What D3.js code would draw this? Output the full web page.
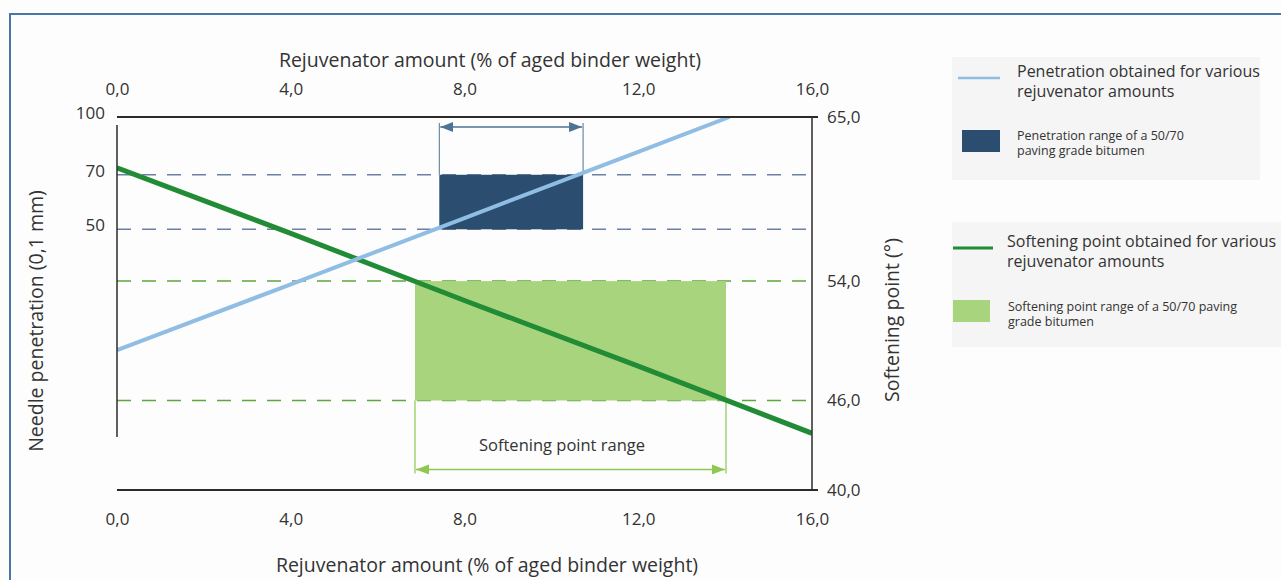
<!DOCTYPE html>
<html>
<head>
<meta charset="utf-8">
<script src="https://cdn.jsdelivr.net/npm/d3@7"></script>
<style>
  html, body { margin: 0; padding: 0; background: #fdfdfd; }
  svg { display: block; }
  text { font-family: "Open Sans", "DejaVu Sans", sans-serif; fill: #333; }
</style>
</head>
<body>
<svg id="chart" width="1281" height="580"></svg>
<script>
// ---------- data ----------
const xTicks = [0, 4, 8, 12, 16];
const xTickLabels = ["0,0", "4,0", "8,0", "12,0", "16,0"];
const penTicks = [100, 70, 50];
const penTickLabels = ["100", "70", "50"];
const spTicks = [65, 54, 46, 40];
const spTickLabels = ["65,0", "54,0", "46,0", "40,0"];

const penetrationAmount = [0, 4, 8, 12, 14.1];
const penetrationValue  = [23.7, 35.6, 53.6, 80.6, 100];

const softeningAmount = [0, 4, 8, 12, 16];
const softeningValue  = [61.6, 57.2, 52.7, 48.3, 43.8];

const penRange = [50, 70];
const penAmountRange = [7.42, 10.73];
const spRange = [46, 54];
const spAmountRange = [6.86, 14.02];

const axisTitleX = "Rejuvenator amount (% of aged binder weight)";
const axisTitleLeft = "Needle penetration (0,1 mm)";
const axisTitleRight = "Softening point (°)";
const rangeLabel = "Softening point range";

const legendMain = [
  ["Penetration obtained for various", "rejuvenator amounts"],
  ["Softening point obtained for various", "rejuvenator amounts"]
];
const legendSub = [
  ["Penetration range of a 50/70", "paving grade bitumen"],
  ["Softening point range of a 50/70 paving", "grade bitumen"]
];

// ---------- colors ----------
const cBlueLine = "#8fbde4";
const cNavy = "#2b4d70";
const cGreenLine = "#228b35";
const cLightGreen = "#a9d47e";
const cBlueDash = "#6c7fa6";
const cGreenDash = "#5ea73c";
const cGreenArrow = "#8dc852";
const cBlueArrow = "#4e7395";
const cAxis = "#2e2a28";
const FONT = '"Open Sans", "DejaVu Sans", sans-serif';

const svg = d3.select("#chart");

// frame
svg.append("rect").attr("x", 10).attr("y", 14).attr("width", 1300).attr("height", 620)
  .attr("fill", "#fdfdfd").attr("stroke", "#4a78a6").attr("stroke-width", 2);

// scales
const x = d3.scaleLinear().domain([0, 16]).range([117, 812]);
const yPen = d3.scaleLog().domain([10, 100]).range([490, 117]);
const ySp = d3.scaleLinear().domain([40, 65]).range([490, 117]);

const defs = svg.append("defs");
defs.append("clipPath").attr("id", "plotclip").append("rect")
  .attr("x", x(0)).attr("y", yPen(100)).attr("width", x(16) - x(0)).attr("height", yPen(10) - yPen(100));
function marker(id, color) {
  defs.append("marker").attr("id", id).attr("viewBox", "0 0 13 10")
    .attr("refX", 13).attr("refY", 5).attr("markerWidth", 13).attr("markerHeight", 10)
    .attr("markerUnits", "userSpaceOnUse").attr("orient", "auto-start-reverse")
    .append("path").attr("d", "M0,0 L13,5 L0,10 Z").attr("fill", color);
}
marker("arrBlue", cBlueArrow);
marker("arrGreen", cGreenArrow);

// dashed guide lines
const dashG = svg.append("g");
penRange.forEach(v => {
  dashG.append("line").attr("x1", x(0)).attr("x2", x(16) - 3).attr("y1", yPen(v)).attr("y2", yPen(v))
    .attr("stroke", cBlueDash).attr("stroke-width", 1.5).attr("stroke-dasharray", "14,11");
});
spRange.forEach(v => {
  dashG.append("line").attr("x1", x(0)).attr("x2", x(16) - 3).attr("y1", ySp(v)).attr("y2", ySp(v))
    .attr("stroke", cGreenDash).attr("stroke-width", 1.5).attr("stroke-dasharray", "14,11");
});

// range rectangles
svg.append("rect")
  .attr("x", x(penAmountRange[0])).attr("width", x(penAmountRange[1]) - x(penAmountRange[0]))
  .attr("y", yPen(penRange[1])).attr("height", yPen(penRange[0]) - yPen(penRange[1]))
  .attr("fill", cNavy);
svg.append("rect")
  .attr("x", x(spAmountRange[0])).attr("width", x(spAmountRange[1]) - x(spAmountRange[0]))
  .attr("y", ySp(spRange[1])).attr("height", ySp(spRange[0]) - ySp(spRange[1]))
  .attr("fill", cLightGreen);

// penetration range dimension (blue)
penAmountRange.forEach(a => {
  svg.append("line").attr("x1", x(a)).attr("x2", x(a)).attr("y1", yPen(100) + 6).attr("y2", yPen(penRange[1]))
    .attr("stroke", cBlueArrow).attr("stroke-width", 1);
});
svg.append("line").attr("x1", x(penAmountRange[0]) + 1).attr("x2", x(penAmountRange[1]) - 1)
  .attr("y1", yPen(100) + 10).attr("y2", yPen(100) + 10)
  .attr("stroke", cBlueArrow).attr("stroke-width", 1.5)
  .attr("marker-start", "url(#arrBlue)").attr("marker-end", "url(#arrBlue)");

// softening range dimension (green)
spAmountRange.forEach(a => {
  svg.append("line").attr("x1", x(a)).attr("x2", x(a)).attr("y1", ySp(spRange[0])).attr("y2", ySp(spRange[0]) + 73)
    .attr("stroke", cGreenArrow).attr("stroke-width", 1.2);
});
svg.append("line").attr("x1", x(spAmountRange[0]) + 1).attr("x2", x(spAmountRange[1]) - 1)
  .attr("y1", ySp(spRange[0]) + 69).attr("y2", ySp(spRange[0]) + 69)
  .attr("stroke", cGreenArrow).attr("stroke-width", 1.5)
  .attr("marker-start", "url(#arrGreen)").attr("marker-end", "url(#arrGreen)");
svg.append("text").attr("x", 562).attr("y", ySp(spRange[0]) + 45)
  .attr("dy", "0.35em").attr("text-anchor", "middle").attr("font-size", 16.5).text(rangeLabel);

// data lines
const softLine = d3.line().x((d, i) => x(softeningAmount[i])).y(d => ySp(d));
svg.append("path").datum(softeningValue).attr("d", softLine)
  .attr("fill", "none").attr("stroke", cGreenLine).attr("stroke-width", 5).attr("clip-path", "url(#plotclip)");
const penLine = d3.line().x((d, i) => x(penetrationAmount[i])).y(d => yPen(d));
svg.append("path").datum(penetrationValue).attr("d", penLine)
  .attr("fill", "none").attr("stroke", cBlueLine).attr("stroke-width", 4).attr("clip-path", "url(#plotclip)");

// frame lines of the plot
svg.append("line").attr("x1", x(0)).attr("x2", x(16) + 6).attr("y1", yPen(100)).attr("y2", yPen(100))
  .attr("stroke", cAxis).attr("stroke-width", 2);
svg.append("line").attr("x1", x(0)).attr("x2", x(16) + 6).attr("y1", yPen(10)).attr("y2", yPen(10))
  .attr("stroke", cAxis).attr("stroke-width", 2);
svg.append("line").attr("x1", x(0)).attr("x2", x(0)).attr("y1", yPen(100) + 8).attr("y2", 437)
  .attr("stroke", cAxis).attr("stroke-width", 1.5);
svg.append("line").attr("x1", x(16)).attr("x2", x(16)).attr("y1", yPen(100)).attr("y2", yPen(10))
  .attr("stroke", cAxis).attr("stroke-width", 1.5);

// axes (labels)
function styleAxis(g, size) {
  g.select(".domain").remove();
  g.selectAll(".tick line").remove();
  g.selectAll("text").attr("font-size", size).attr("fill", "#333").style("font-family", FONT);
}
svg.append("g").attr("transform", `translate(0,${yPen(10)})`)
  .call(d3.axisBottom(x).tickValues(xTicks).tickFormat((d, i) => xTickLabels[i]).tickSize(0).tickPadding(23))
  .call(g => styleAxis(g, 17));
svg.append("g").attr("transform", `translate(0,${yPen(100)})`)
  .call(d3.axisTop(x).tickValues(xTicks).tickFormat((d, i) => xTickLabels[i]).tickSize(0).tickPadding(22))
  .call(g => styleAxis(g, 17));
svg.append("g").attr("transform", `translate(${x(0)},0)`)
  .call(d3.axisLeft(yPen).tickValues(penTicks).tickFormat((d, i) => penTickLabels[i]).tickSize(0).tickPadding(12))
  .call(g => styleAxis(g, 17))
  .call(g => g.selectAll("text").attr("dy", "0.1em"));
svg.append("g").attr("transform", `translate(${x(16)},0)`)
  .call(d3.axisRight(ySp).tickValues(spTicks).tickFormat((d, i) => spTickLabels[i]).tickSize(0).tickPadding(15))
  .call(g => styleAxis(g, 17));

// axis titles
svg.append("text").attr("x", 490).attr("y", 67).attr("text-anchor", "middle").attr("font-size", 19.5).text(axisTitleX);
svg.append("text").attr("x", 487).attr("y", 572).attr("text-anchor", "middle").attr("font-size", 19.5).text(axisTitleX);
svg.append("text").attr("transform", "translate(43,321) rotate(-90)").attr("text-anchor", "middle").attr("font-size", 19.5).text(axisTitleLeft);
svg.append("text").attr("transform", "translate(899,320) rotate(-90)").attr("text-anchor", "middle").attr("font-size", 19.5).text(axisTitleRight);

// legend
const lg = svg.append("g");
lg.append("rect").attr("x", 952).attr("y", 57).attr("width", 308).attr("height", 123).attr("fill", "#f5f5f5");
lg.append("rect").attr("x", 952).attr("y", 222).attr("width", 329).attr("height", 125).attr("fill", "#f5f5f5");
const groups = [
  { lineX: [958, 1000], lineY: 78, textX: 1017, textY: [71, 91], rect: [962, 130, 38, 22], subX: 1017, subY: [136, 151], subColor: cNavy, color: cBlueLine, sw: 2.5 },
  { lineX: [953, 993], lineY: 248, textX: 1007, textY: [241, 261], rect: [953, 300, 37, 22], subX: 1008, subY: [307, 322], subColor: cLightGreen, color: cGreenLine, sw: 3 }
];
groups.forEach((g, k) => {
  lg.append("line").attr("x1", g.lineX[0]).attr("x2", g.lineX[1]).attr("y1", g.lineY).attr("y2", g.lineY)
    .attr("stroke", g.color).attr("stroke-width", g.sw);
  legendMain[k].forEach((t, j) => {
    lg.append("text").attr("x", g.textX).attr("y", g.textY[j]).attr("dy", "0.35em")
      .attr("font-size", 16).attr("fill", "#333").text(t);
  });
  lg.append("rect").attr("x", g.rect[0]).attr("y", g.rect[1]).attr("width", g.rect[2]).attr("height", g.rect[3]).attr("fill", g.subColor);
  legendSub[k].forEach((t, j) => {
    lg.append("text").attr("x", g.subX).attr("y", g.subY[j]).attr("dy", "0.35em")
      .attr("font-size", 12.5).attr("fill", "#666").text(t);
  });
});
</script>
</body>
</html>
